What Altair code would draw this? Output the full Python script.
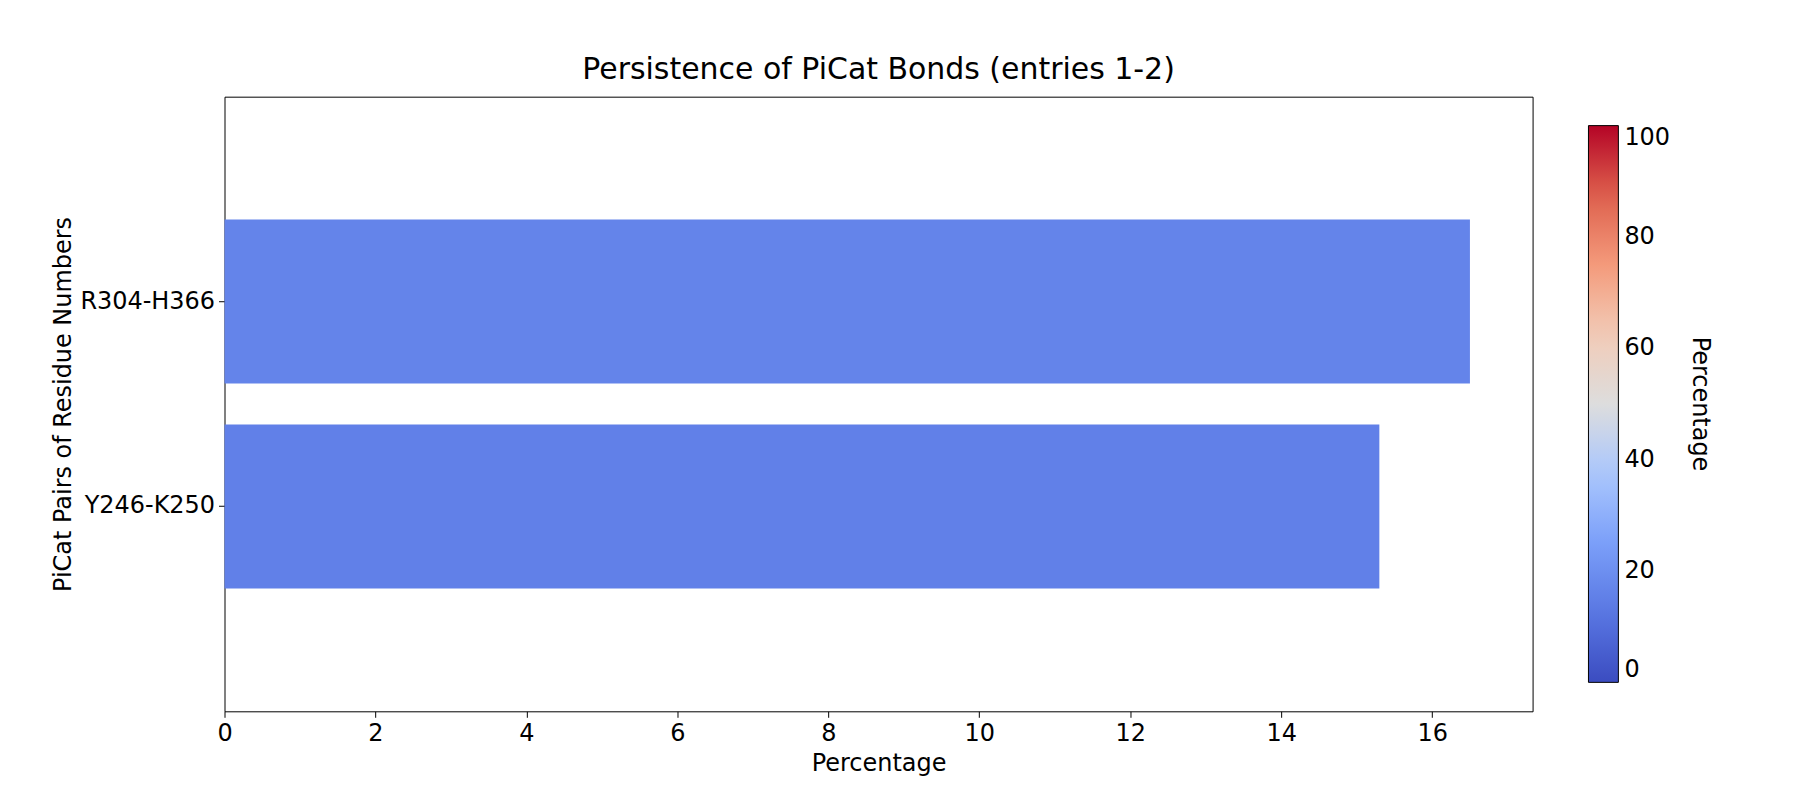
import altair as alt
import pandas as pd

pairs = ["R304-H366", "Y246-K250"]
percent = [16.5, 15.3]

df = pd.DataFrame({"pair": pairs, "pct": percent})

coolwarm_stops = [0, 12.5, 25, 37.5, 50, 62.5, 75, 87.5, 100]
coolwarm_colors = ["#3b4cc0", "#5977e3", "#7b9ff9", "#aac7fd", "#dddddd",
                   "#f2cbb7", "#f49a7b", "#de604d", "#b40426"]

font = "DejaVu Sans"

chart = alt.Chart(df).mark_bar().encode(
    x=alt.X("pct:Q", title="Percentage",
            scale=alt.Scale(domain=[0, 17.33], nice=False, zero=True),
            axis=alt.Axis(values=list(range(0, 17, 2)), grid=False, labelFlush=False)),
    y=alt.Y("pair:N", title="PiCat Pairs of Residue Numbers", sort=pairs,
            scale=alt.Scale(paddingInner=0.2, paddingOuter=0.6)),
    color=alt.Color("pct:Q",
                    scale=alt.Scale(domain=coolwarm_stops, range=coolwarm_colors, interpolate="rgb"),
                    legend=alt.Legend(title="Percentage", orient="none", legendX=1367, legendY=29,
                                      direction="vertical", gradientLength=558, gradientThickness=30,
                                      values=[0, 20, 40, 60, 80, 100], titleOrient="right",
                                      titleFontSize=24, labelFontSize=24,
                                      titleFont=font, labelFont=font, titleFontWeight="normal",
                                      gradientStrokeColor="black", gradientStrokeWidth=1,
                                      titleAnchor="middle", titlePadding=18, labelOffset=6)),
).properties(
    width=1311, height=616,
    autosize="none",
    padding={"left": 217, "top": 88, "right": 260, "bottom": 80},
    title=alt.TitleParams("Persistence of PiCat Bonds (entries 1-2)", fontSize=30,
                          font=font, fontWeight="normal", offset=12),
    background="white",
).configure_axis(
    labelFont=font, titleFont=font, labelFontSize=24, titleFontSize=24,
    titleFontWeight="normal", labelColor="black", titleColor="black",
    domain=False, tickColor="black", tickSize=6, labelPadding=4,
).configure_axisY(labelAngle=0).configure_axisX(titlePadding=6).configure_view(
    stroke="black", strokeWidth=1
)

chart.save("out.html", embed_options={"renderer": "svg", "actions": False})
